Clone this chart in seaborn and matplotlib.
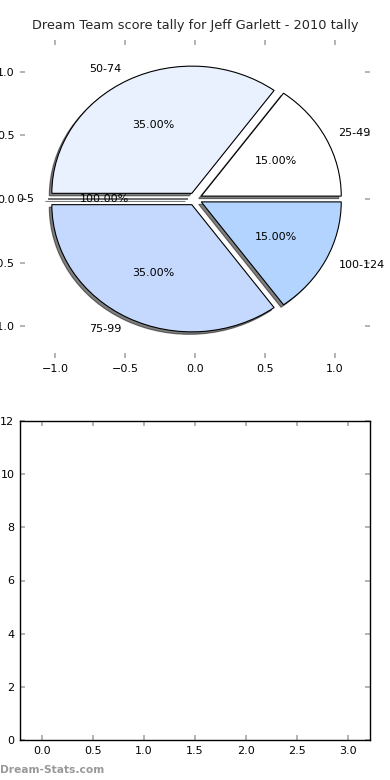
import matplotlib
matplotlib.use("Agg")
import matplotlib.pyplot as plt
import seaborn as sns

# ---- data ----
categories = ["25-49", "50-74", "0-5", "75-99", "100-124"]
shares = [15, 35, 0, 35, 15]
pct_labels = ["15.00%", "35.00%", "100.00%", "35.00%", "15.00%"]
slice_colors = ["#ffffff", "#eaf1fe", "#ffffff", "#c5d9fe", "#b3d4fe"]
title = "Dream Team score tally for Jeff Garlett - 2010 tally"
pie_ticks = [-1.0, -0.5, 0.0, 0.5, 1.0]
bottom_xticks = [0.0, 0.5, 1.0, 1.5, 2.0, 2.5, 3.0]
bottom_yticks = [0, 2, 4, 6, 8, 10, 12]

sns.set_theme(style="white")
plt.rcParams["font.family"] = ["DejaVu Sans"]

fig = plt.figure(figsize=(3.9, 7.8), dpi=100)
ax1 = fig.add_axes([20/390, 1-358/780, 350/390, 318/780])
ax2 = fig.add_axes([20/390, 1-740/780, 350/390, 319/780])

_it = iter(pct_labels)
wedges, texts, autotexts = ax1.pie(
    shares, labels=categories, colors=slice_colors,
    explode=[0.05]*len(shares),
    shadow=dict(ox=-0.013, oy=-0.014, shade=1.0),
    startangle=0,
    autopct=lambda p: next(_it),
    wedgeprops=dict(edgecolor="black", linewidth=0.8),
    textprops=dict(fontsize=8, color="black"),
)
ax1.set_aspect("auto")
ax1.set_xlim(-1.25, 1.25)
ax1.set_ylim(-1.25, 1.25)
ax1.set_frame_on(False)
ax1.set_xticks(pie_ticks)
ax1.set_yticks(pie_ticks)
ax1.tick_params(axis="both", which="both", direction="in", length=3.5,
                color="#aaaaaa", labelsize=8, labelcolor="black",
                top=True, right=True, bottom=True, left=True, pad=4)
ax1.set_title(title, fontsize=9.3, pad=8)

ax2.set_xlim(-0.22, 3.22)
ax2.set_ylim(0, 12)
ax2.set_xticks(bottom_xticks)
ax2.set_yticks(bottom_yticks)
for s in ax2.spines.values():
    s.set_visible(True)
    s.set_color("black")
    s.set_linewidth(1.0)
ax2.tick_params(axis="both", which="both", direction="in", length=3.5,
                color="#aaaaaa", labelsize=8, labelcolor="black",
                top=True, right=True, bottom=True, left=True, pad=4)
ax2.set_facecolor("white")

fig.text(0.0, 10/780, "Dream-Stats.com", fontsize=7.7, color="#999999",
         fontweight="bold", ha="left", va="center")

fig.savefig("out.png", dpi=100, facecolor="white")
